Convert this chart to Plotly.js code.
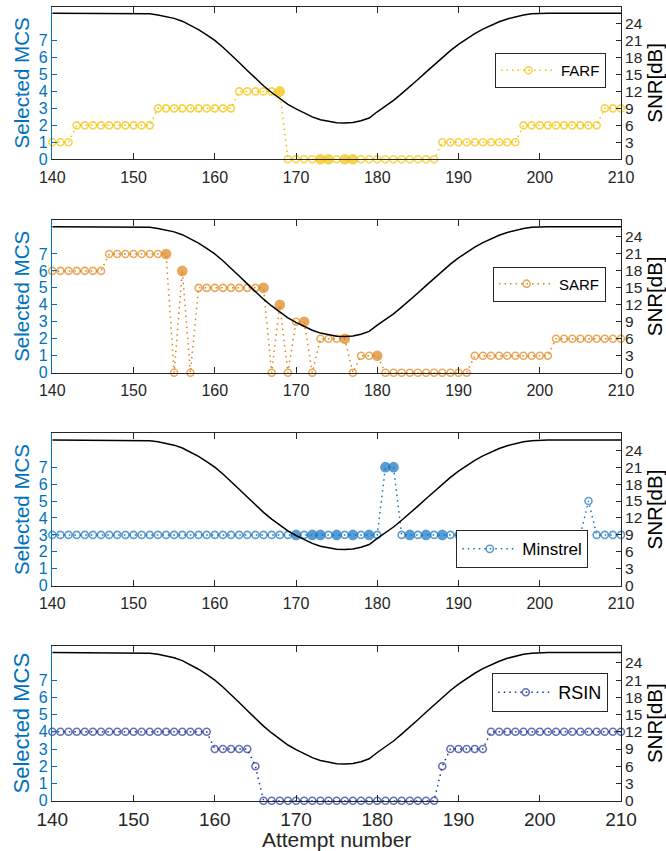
<!DOCTYPE html>
<html>
<head>
<meta charset="utf-8">
<script src="https://cdn.plot.ly/plotly-3.0.1.min.js"></script>
<style>
  html, body { margin: 0; padding: 0; background: #ffffff; }
  #chart { width: 666px; height: 851px; }
</style>
</head>
<body>
<div id="chart"></div>
<script>
// Attempt numbers on the horizontal axis
const attempts = [
  140,141,142,143,144,145,146,147,148,149,
  150,151,152,153,154,155,156,157,158,159,
  160,161,162,163,164,165,166,167,168,169,
  170,171,172,173,174,175,176,177,178,179,
  180,181,182,183,184,185,186,187,188,189,
  190,191,192,193,194,195,196,197,198,199,
  200,201,202,203,204,205,206,207,208,209,
  210
];

// Channel SNR in dB for each attempt (right axis)
const snrDb = [
  25.8,25.8,25.8,25.8,25.8,25.8,25.8,25.8,25.8,25.8,
  25.8,25.8,25.7,25.5,25.2,24.9,24.4,23.7,22.9,22.0,
  21.0,19.8,18.5,17.1,15.7,14.3,13.0,11.8,10.7,9.7,
  8.9,8.2,7.5,7.0,6.7,6.45,6.4,6.5,6.8,7.3,
  8.4,9.4,10.4,11.6,12.8,14.1,15.4,16.7,18.0,19.2,
  20.3,21.3,22.2,23.0,23.7,24.3,24.8,25.2,25.5,25.7,
  25.8,25.8,25.8,25.8,25.8,25.8,25.8,25.8,25.8,25.8,
  25.8
];

// Selected MCS per rate-adaptation scheme
const farfMcs = [
  1,1,1,2,2,2,2,2,2,2,
  2,2,2,3,3,3,3,3,3,3,
  3,3,3,4,4,4,4,4,4,0,
  0,0,0,0,0,0,0,0,0,0,
  0,0,0,0,0,0,0,0,1,1,
  1,1,1,1,1,1,1,1,2,2,
  2,2,2,2,2,2,2,2,3,3,
  3
];
const sarfMcs = [
  6,6,6,6,6,6,6,7,7,7,
  7,7,7,7,7,0,6,0,5,5,
  5,5,5,5,5,5,5,0,4,0,
  3,3,0,2,2,2,2,0,1,1,
  1,0,0,0,0,0,0,0,0,0,
  0,0,1,1,1,1,1,1,1,1,
  1,1,2,2,2,2,2,2,2,2,
  2
];
const minstrelMcs = [
  3,3,3,3,3,3,3,3,3,3,
  3,3,3,3,3,3,3,3,3,3,
  3,3,3,3,3,3,3,3,3,3,
  3,3,3,3,3,3,3,3,3,3,
  3,7,7,3,3,3,3,3,3,3,
  3,3,3,3,3,3,3,3,3,3,
  3,3,3,3,3,3,5,3,3,3,
  3
];
const rsinMcs = [
  4,4,4,4,4,4,4,4,4,4,
  4,4,4,4,4,4,4,4,4,4,
  3,3,3,3,3,2,0,0,0,0,
  0,0,0,0,0,0,0,0,0,0,
  0,0,0,0,0,0,0,0,2,3,
  3,3,3,3,4,4,4,4,4,4,
  4,4,4,4,4,4,4,4,4,4,
  4
];

// Attempts drawn with a solid marker
const farfSolid = [168,173,174,176,177];
const sarfSolid = [154,156,166,168,171,176,180];
const minstrelSolid = [170,172,173,175,177,179,181,182,184,186,188];
const rsinSolid = [];

const schemeNames = ['FARF', 'SARF', 'Minstrel', 'RSIN'];
const schemeColors = ['#F2C200', '#DF8416', '#1473BF', '#20359A'];

const FONT = 'Liberation Sans, Arial, Helvetica, sans-serif';
const AXIS_BLUE = '#0072BD';
const INK = '#262626';

const W = 666, H = 851;
const xDom = [52.3 / W, 621 / W];
// [top, bottom] pixel rows of each panel
const panelPx = [[6.5, 159.3], [220, 372.7], [433.3, 585.7], [645.7, 800.7]];
// legend right edge and vertical centre in pixels
const legendPx = [[606, 70.5], [606, 284], [588.3, 549.3], [608.3, 692.5]];
const legendFont = [15, 15, 17, 18];

function markerStyle(solid, color) {
  const symbol = [], size = [];
  attempts.forEach(a => {
    const s = solid.indexOf(a) >= 0;
    symbol.push(s ? 'circle' : 'circle-open');
    size.push(s ? 9 : 7);
  });
  return { symbol: symbol, size: size, color: color, line: { color: color, width: 1.6 } };
}

const series = [farfMcs, sarfMcs, minstrelMcs, rsinMcs];
const solids = [farfSolid, sarfSolid, minstrelSolid, rsinSolid];

const traces = [];
const layout = {
  width: W, height: H,
  margin: { l: 0, r: 0, t: 0, b: 0 },
  paper_bgcolor: '#ffffff',
  plot_bgcolor: '#ffffff',
  font: { family: FONT, color: INK },
  showlegend: true
};

for (let i = 0; i < 4; i++) {
  const xa = i === 0 ? 'x' : 'x' + (i + 1);
  const yl = i === 0 ? 'y' : 'y' + (2 * i + 1);
  const yr = 'y' + (2 * i + 2);
  const legendId = i === 0 ? 'legend' : 'legend' + (i + 1);
  const last = i === 3;

  traces.push({
    x: attempts, y: series[i],
    xaxis: xa, yaxis: yl,
    type: 'scatter', mode: 'lines+markers',
    name: schemeNames[i],
    legend: legendId,
    line: { color: schemeColors[i], width: 1.5, dash: '1.5px,4px' },
    marker: markerStyle(solids[i], schemeColors[i]),
    cliponaxis: false
  });
  traces.push({
    x: attempts, y: snrDb,
    xaxis: xa, yaxis: yr,
    type: 'scatter', mode: 'lines',
    name: 'SNR',
    showlegend: false,
    line: { color: '#000000', width: 1.5 }
  });

  const top = 1 - panelPx[i][0] / H;
  const bot = 1 - panelPx[i][1] / H;
  const xKey = i === 0 ? 'xaxis' : 'xaxis' + (i + 1);
  const ylKey = i === 0 ? 'yaxis' : 'yaxis' + (2 * i + 1);
  const yrKey = 'yaxis' + (2 * i + 2);

  layout[xKey] = {
    domain: xDom, anchor: yl,
    range: [140, 210],
    tickvals: [140, 150, 160, 170, 180, 190, 200, 210],
    ticks: 'inside', ticklen: 6, tickwidth: 1, tickcolor: INK,
    ticklabelstandoff: last ? 1 : 3,
    showline: true, linecolor: INK, linewidth: 1, mirror: 'ticks',
    showgrid: false, zeroline: false,
    tickfont: { family: FONT, size: last ? 19 : 16, color: INK },
    title: last ? { text: 'Attempt number', font: { family: FONT, size: 21, color: INK }, standoff: 0 } : { text: '' },
    automargin: false
  };
  layout[ylKey] = {
    domain: [bot, top], anchor: xa,
    range: [0, 9],
    tickvals: [0, 1, 2, 3, 4, 5, 6, 7],
    ticks: 'inside', ticklen: 5, tickwidth: 1, tickcolor: AXIS_BLUE,
    showline: true, linecolor: AXIS_BLUE, linewidth: 1.5,
    showgrid: false, zeroline: false,
    tickfont: { family: FONT, size: 16, color: AXIS_BLUE },
    title: { text: 'Selected MCS', font: { family: FONT, size: last ? 22 : 20.5, color: AXIS_BLUE }, standoff: 3 },
    automargin: false
  };
  layout[yrKey] = {
    overlaying: yl, side: 'right', anchor: xa,
    range: [0, 27],
    tickvals: [0, 3, 6, 9, 12, 15, 18, 21, 24],
    ticks: 'inside', ticklen: 5, tickwidth: 1, tickcolor: INK,
    showline: true, linecolor: INK, linewidth: 1,
    showgrid: false, zeroline: false,
    tickfont: { family: FONT, size: 15.5, color: INK },
    title: { text: 'SNR[dB]', font: { family: FONT, size: 20.5, color: '#000000' }, standoff: 6 },
    automargin: false
  };
  layout[legendId] = {
    x: legendPx[i][0] / W, y: 1 - legendPx[i][1] / H,
    xanchor: 'right', yanchor: 'middle',
    bgcolor: '#ffffff', bordercolor: INK, borderwidth: 1,
    font: { family: FONT, size: legendFont[i], color: '#000000' },
    itemwidth: 55
  };
}

Plotly.newPlot('chart', traces, layout, { staticPlot: true, displayModeBar: false });
</script>
</body>
</html>
